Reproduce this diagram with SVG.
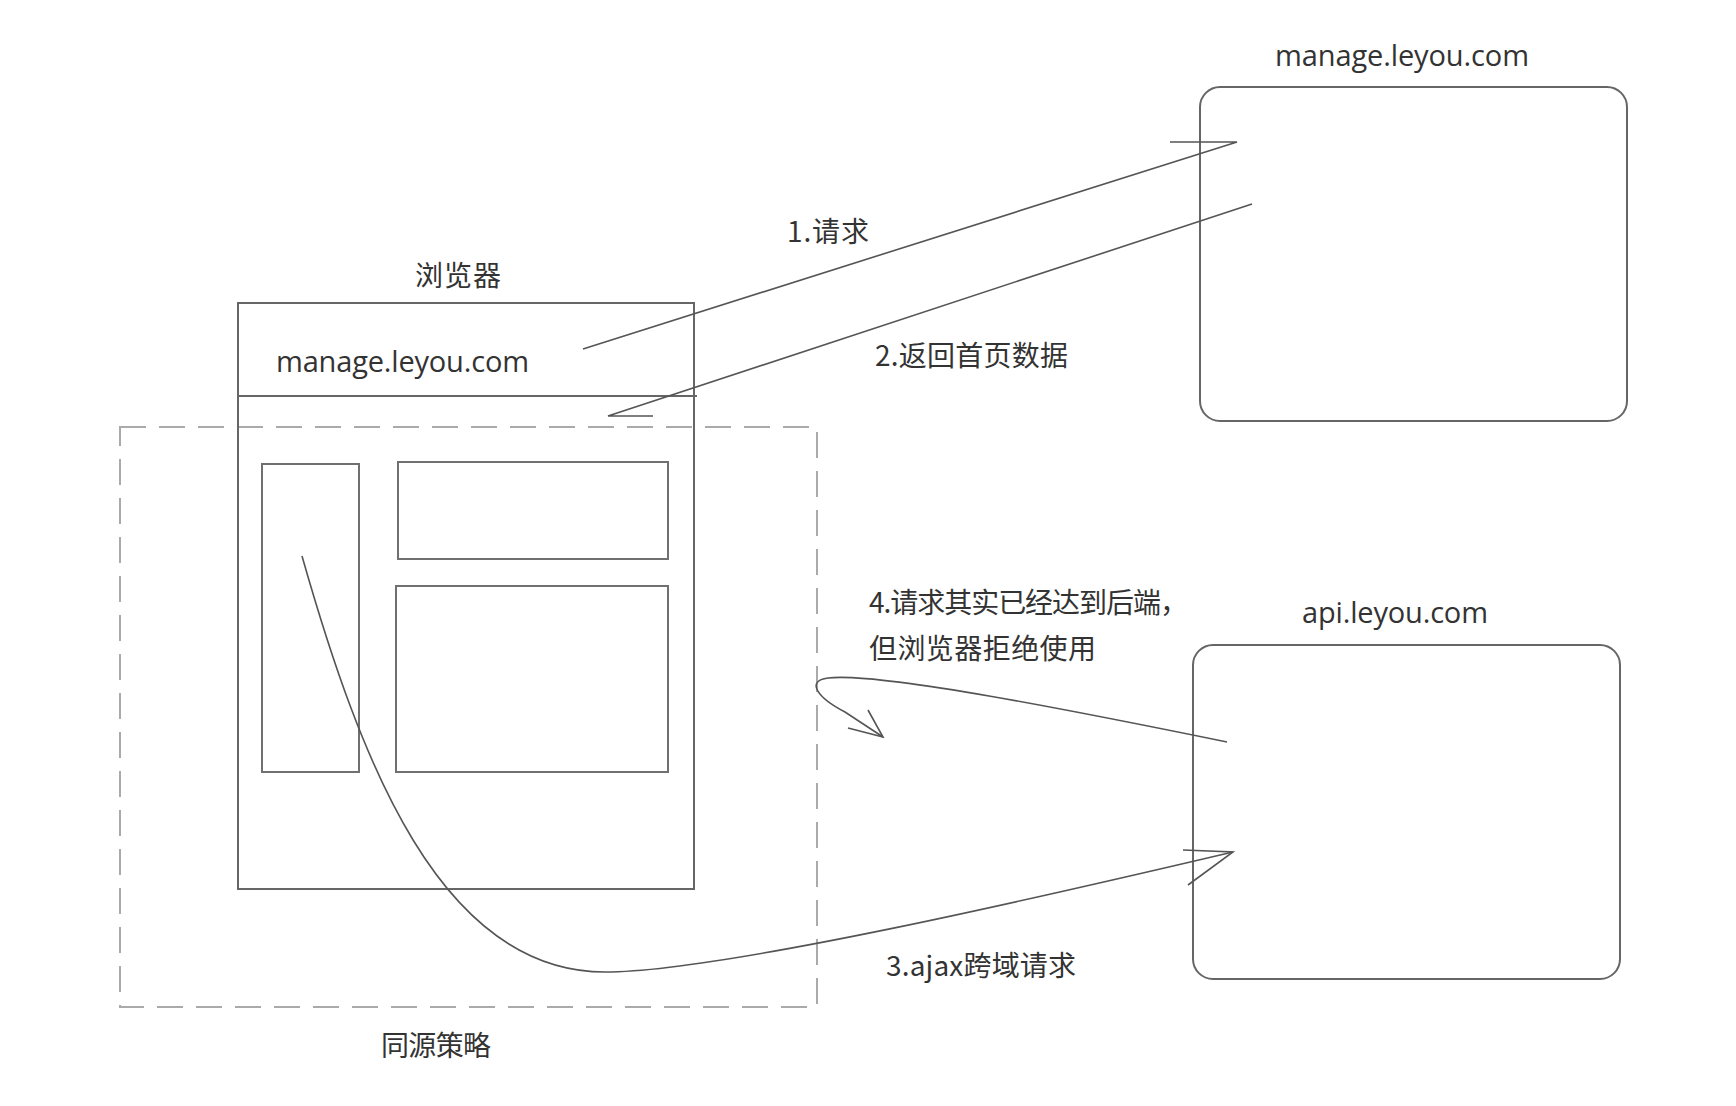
<svg xmlns="http://www.w3.org/2000/svg" width="1736" height="1106" viewBox="0 0 1736 1106">
<style>
.box{fill:none;stroke:#666;stroke-width:2}
.inner{fill:none;stroke:#707070;stroke-width:2}
.dash{fill:none;stroke:#aaa;stroke-width:2;stroke-dasharray:26 13}
.con{fill:none;stroke:#555;stroke-width:1.6;stroke-linejoin:miter}
.lat{font-family:"Open Sans","Noto Sans","Noto Sans CJK SC",sans-serif;font-size:29px;fill:#333}
.cjk{font-family:"Noto Sans CJK SC","Noto Sans",sans-serif;font-size:28px;fill:#333}
</style>
<rect width="1736" height="1106" fill="#fff"/>
<g id="same-origin">
<rect class="dash" x="120" y="427" width="697" height="580"/>
<text class="cjk" x="381" y="1056" textLength="110">同源策略</text>
</g>
<g id="browser">
<rect class="box" x="238" y="303" width="456" height="586"/>
<path class="box" d="M238,396 L697,396"/>
<text class="cjk" x="415" y="286" textLength="86">浏览器</text>
<text class="lat" x="276" y="372" textLength="253">manage.leyou.com</text>
</g>
<g id="panel-left"><rect class="inner" x="262" y="464" width="97" height="308"/></g>
<g id="panel-top"><rect class="inner" x="398" y="462" width="270" height="97"/></g>
<g id="panel-main"><rect class="inner" x="396" y="586" width="272" height="186"/></g>
<g id="manage-server">
<rect class="box" x="1200" y="87" width="427" height="334" rx="20" ry="20"/>
<text class="lat" x="1275" y="66" textLength="254">manage.leyou.com</text>
</g>
<g id="api-server">
<rect class="box" x="1193" y="645" width="427" height="334" rx="20" ry="20"/>
<text class="lat" x="1302" y="623" textLength="186">api.leyou.com</text>
</g>
<g id="connectors">
<path class="con" d="M583,349 L1237,142 L1170,142"/>
<path class="con" d="M1252,204 L608,416 L653,416"/>
<path class="con" d="M302,556 C360,760 440,972 605,972 C720,972 1050,895 1233,852"/>
<path class="con" d="M1183,850 L1233,852 L1188,885"/>
<path class="con" d="M1227,742 C1080,712 880,672 828,678 C805,681 818,698 845,712 L883,737"/>
<path class="con" d="M848,728 L883,737 L868,710"/>
</g>
<g id="labels">
<text class="cjk" x="787" y="242" textLength="82">1.请求</text>
<text class="cjk" x="875" y="366" textLength="193">2.返回首页数据</text>
<text class="cjk" x="886" y="976" textLength="190">3.ajax跨域请求</text>
<text class="cjk" x="869" y="613" textLength="319">4.请求其实已经达到后端，</text>
<text class="cjk" x="869" y="659" textLength="227">但浏览器拒绝使用</text>
</g>
</svg>
